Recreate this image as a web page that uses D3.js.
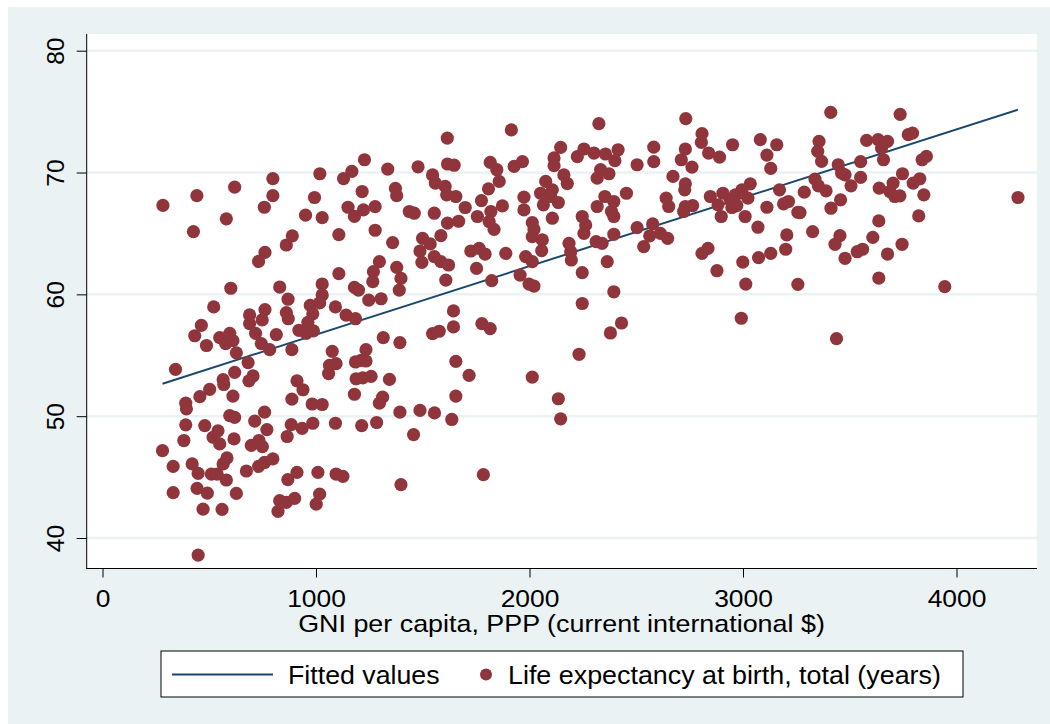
<!DOCTYPE html>
<html>
<head>
<meta charset="utf-8">
<script src="https://cdn.jsdelivr.net/npm/d3@7"></script>
<style>
  body { margin: 0; background: #fff; }
  text { font-family: "Liberation Sans", Arial, sans-serif; fill: #000; }
</style>
</head>
<body>
<svg id="chart" width="1050" height="724"></svg>
<script>
// axis ticks
const xTicks = [0, 1000, 2000, 3000, 4000];
const yTicks = [40, 50, 60, 70, 80];

// fitted values (linear fit), read at the two ends of the line
const fittedX = [281, 4288];
const fittedY = [52.66, 75.16];

// [GNI per capita PPP, life expectancy at birth]
const observations = [
  [1018,69.9],[1168,70.1],[1129,69.5],[798,69.5],[619,68.8],[442,68.1],[798,68.1],[283,67.3],[758,67.15],[993,67.95],
  [1150,67.15],[1180,66.4],[951,66.5],[1029,66.3],[580,66.2],[426,65.15],[1107,64.9],[889,64.8],[861,64.05],[761,63.45],
  [731,62.7],[1107,61.7],[1029,60.85],[830,60.6],[601,60.5],[1180,60.57],[869,59.6],[1029,59.95],[1199,60.35],
  [521,58.97],[761,58.75],[689,58.31],[861,58.5],[870,58.0],[973,59.1],[1017,59.3],[985,58.4],[962,57.7],[920,57.05],
  [954,56.8],[988,57.0],[1091,58.97],[1141,58.3],[1185,58.0],[689,57.6],[748,57.9],[463,57.46],[432,56.6],[487,55.8],
  [549,56.45],[596,56.8],[577,55.95],[611,56.2],[627,55.2],[717,56.8],[814,56.7],[744,55.95],[783,55.46],[887,55.46],
  [342,53.84],[682,54.4],[619,53.6],[565,53.0],[568,52.6],[705,53.3],[686,52.9],[502,52.2],[456,51.6],[390,51.07],
  [393,50.6],[611,51.65],[596,50.05],[619,49.9],[713,49.6],[759,50.33],[770,48.9],[390,49.29],[479,49.23],[541,48.8],
  [518,48.27],[549,47.72],[616,48.13],[381,48.0],[281,47.17],[697,47.6],[733,48.0],[749,47.5],[331,45.88],[420,46.08],
  [448,45.3],[510,45.25],[537,45.25],[580,44.76],[565,46.08],[583,46.57],[674,45.5],[731,45.88],[759,46.2],[798,46.5],
  [443,44.07],[491,43.69],[331,43.72],[627,43.66],[471,42.37],[560,42.35],[868,44.79],[911,45.39],[1009,45.39],[1094,45.25],
  [1126,45.06],[830,43.06],[861,42.92],[900,43.25],[822,42.18],[1017,43.6],[1001,42.78],[448,38.6],[911,52.9],[939,52.17],
  [887,51.4],[982,51.0],[1029,50.96],[884,49.3],[865,48.33],[935,49.0],[985,49.42],[1091,49.42],[1076,55.32],[1063,54.17],
  [1094,54.31],[1059,53.5],[1180,51.8],[1185,54.45],[1188,53.07],
  [1915,73.5],[1615,72.83],[1227,71.05],[1336,70.28],[1478,70.47],[1616,70.7],[1647,70.6],[1816,70.83],[1847,70.23],[1858,69.27],
  [1808,68.66],[1775,67.7],[1928,70.5],[1967,70.9],[2115,71.2],[2146,72.06],[2115,70.56],[2161,69.8],[2177,69.1],[2224,71.3],
  [2076,69.27],[2052,68.3],[2107,68.58],[2065,67.35],[2135,67.54],[2099,68.03],[1974,67.98],[1974,66.93],[2107,66.25],[2013,65.89],
  [2021,65.34],[2013,64.74],[2060,64.47],[2057,63.59],[2185,64.19],[2193,63.5],[2196,62.82],[1216,68.44],[1222,66.93],[1277,67.2],
  [1277,65.26],[1372,68.7],[1378,68.1],[1437,66.8],[1460,66.66],[1554,66.66],[1546,69.8],[1559,69.13],[1605,68.86],[1612,68.17],
  [1655,68.03],[1699,67.13],[1756,66.39],[1811,65.97],[1834,65.34],[1873,67.26],[1819,66.8],[1616,65.84],[1668,66.0],[1585,64.82],
  [1359,64.25],[1499,64.6],[1535,64.14],[1487,63.56],[1496,62.63],[1554,63.1],[1585,62.68],[1621,62.41],[1725,63.56],[1764,63.78],
  [1792,63.31],[1889,63.37],[1752,62.13],[1982,63.1],[2013,62.68],[1297,62.68],[1269,61.86],[1266,61.04],[1378,62.22],[1398,61.31],
  [1390,60.35],[1608,61.17],[1823,61.12],[1956,61.58],[1998,60.84],[2021,60.68],[1247,59.53],[1305,59.64],
  [1644,58.64],[1644,57.33],[1546,56.78],[1577,56.97],[1777,57.6],[1816,57.19],[1315,56.45],[1393,56.04],[1234,55.46],[1234,54.53],
  [1211,54.58],[1219,53.15],[1258,53.27],[1344,53.02],[1655,54.5],[1717,53.35],[1655,51.65],[1312,51.56],[1297,51.07],[1393,50.33],
  [1487,50.47],[1555,50.27],[1636,49.73],[1284,49.48],[1214,49.23],[1457,48.49],[1398,44.38],[1784,45.2],[2013,53.21],[2135,51.43],
  [2146,49.78],[2232,55.08],
  [2325,74.01],[2732,74.42],[2255,71.93],[2302,71.6],[2356,71.52],[2415,71.87],[2400,70.97],[2333,70.23],[2372,69.9],[2317,69.54],
  [2504,70.64],[2582,72.09],[2582,70.89],[2672,69.68],[2730,71.93],[2711,71.05],[2761,70.45],[2808,73.19],[2805,72.48],[2839,71.6],
  [2890,71.27],[2951,72.28],[3081,72.7],[3158,72.28],[3112,71.43],[3130,70.34],[2730,69.07],[2727,68.58],[2454,68.3],[2353,68.03],
  [2395,67.62],[2317,67.21],[2384,66.8],[2395,66.39],[2247,66.39],[2263,65.7],[2255,65.0],[2640,67.9],[2652,67.21],[2730,67.21],
  [2764,67.29],[2722,66.8],[2847,68.03],[2906,68.3],[2883,67.35],[2898,66.39],[2940,67.76],[2964,68.17],[2995,68.58],[3034,69.07],
  [3023,67.9],[2948,67.13],[2971,67.29],[3010,66.39],[3070,65.51],[3112,67.15],[3171,68.58],[3190,67.43],[3213,67.62],[3257,66.74],
  [2504,65.48],[2577,65.78],[2563,64.8],[2613,65.01],[2647,64.6],[2535,63.92],[2395,64.93],[2312,64.33],[2340,64.19],[2364,62.68],
  [2247,61.78],[2395,60.21],[2808,63.37],[2836,63.78],[2878,61.94],[2999,62.65],[3073,63.01],[3130,63.37],[3200,63.7],[3205,64.88],
  [3013,60.84],[3257,60.82],
  [2247,59.25],[2431,57.65],[2379,56.83],[2992,58.04],
  [3411,74.94],[3736,74.78],[3356,72.56],[3350,71.74],[3368,70.91],[3579,72.64],[3633,72.7],[3677,72.56],[3649,72.01],[3658,71.05],
  [3774,73.11],[3794,73.24],[3839,71.05],[3859,71.32],[3551,70.89],[3446,70.64],[3462,69.95],[3478,69.81],[3551,69.6],[3747,69.9],
  [3828,69.49],[3797,69.13],[3337,69.46],[3353,68.91],[3389,68.5],[3287,68.39],[3506,68.91],[3638,68.72],[3703,69.13],[3688,68.44],
  [3711,68.03],[3735,68.09],[3847,68.17],[3457,67.76],[3412,67.07],[3267,66.71],[4288,67.95],[3823,66.44],[3636,66.03],[3326,65.15],
  [3454,64.82],[3431,64.11],[3608,64.68],[3745,64.11],[3560,63.7],[3535,63.5],[3478,62.96],[3677,63.31],[3636,61.34],[3945,60.63],
  [3438,56.36]
];

const legendLabels = ["Fitted values", "Life expectancy at birth, total (years)"];
const xTitle = "GNI per capita, PPP (current international $)";

const bg = "#eaf2f3";
const maroon = "#90353b";
const navy = "#1a476f";

const svg = d3.select("#chart");

// plot region box
const plot = { left: 87, right: 1037, top: 34, bottom: 568.5 };

const x = d3.scaleLinear().domain([0, 4000]).range([102.5, 956.5]);
const y = d3.scaleLinear().domain([40, 80]).range([538, 50.7]);

svg.append("rect").attr("x", 8).attr("y", 7).attr("width", 1042).attr("height", 717).attr("fill", bg);
svg.append("rect")
  .attr("x", plot.left).attr("y", plot.top)
  .attr("width", plot.right - plot.left).attr("height", plot.bottom - plot.top)
  .attr("fill", "#fff");

// grid
svg.append("g").selectAll("line").data(yTicks).join("line")
  .attr("x1", plot.left).attr("x2", plot.right)
  .attr("y1", d => y(d)).attr("y2", d => y(d))
  .attr("stroke", bg).attr("stroke-width", 2.5);

// axes
const yAxis = svg.append("g").attr("transform", `translate(${plot.left - 0.3},0)`)
  .call(d3.axisLeft(y).tickValues(yTicks).tickSize(10).tickSizeOuter(0).tickFormat(d3.format("d")));
yAxis.select(".domain").remove();
yAxis.selectAll("text")
  .attr("transform", "rotate(-90)")
  .attr("x", 0).attr("y", -22.7).attr("dy", 0)
  .attr("text-anchor", "middle")
  .style("font-size", "24.5px");

const xAxis = svg.append("g").attr("transform", `translate(0,${plot.bottom})`)
  .call(d3.axisBottom(x).tickValues(xTicks).tickSize(9).tickSizeOuter(0).tickFormat(d3.format("d")));
xAxis.select(".domain").remove();
xAxis.selectAll("text")
  .attr("y", 38.5).attr("dy", 0)
  .attr("transform", "scale(1.1,1)")
  .style("font-size", "24px");
svg.selectAll(".tick line").attr("stroke", "#000");
svg.selectAll(".tick text").attr("fill", "#000").attr("font-family", null);

svg.append("line").attr("x1", plot.left - 0.3).attr("x2", plot.left - 0.3)
  .attr("y1", plot.top).attr("y2", plot.bottom).attr("stroke", "#000");
svg.append("line").attr("x1", plot.left - 0.8).attr("x2", plot.right)
  .attr("y1", plot.bottom).attr("y2", plot.bottom).attr("stroke", "#000");

// fitted line
svg.append("path")
  .datum(fittedX.map((d, i) => [d, fittedY[i]]))
  .attr("d", d3.line().x(d => x(d[0])).y(d => y(d[1])))
  .attr("fill", "none").attr("stroke", navy).attr("stroke-width", 2);

// scatter
svg.append("g").selectAll("circle").data(observations).join("circle")
  .attr("cx", d => x(d[0])).attr("cy", d => y(d[1]))
  .attr("r", 6.6).attr("fill", maroon);

// x title
svg.append("g").attr("transform", "translate(561.5,632) scale(1.12,1)")
  .append("text").attr("text-anchor", "middle").style("font-size", "24px").text(xTitle);

// legend
const legend = svg.append("g");
legend.append("rect").attr("x", 161).attr("y", 651).attr("width", 802).attr("height", 46)
  .attr("fill", "#fff").attr("stroke", "#000").attr("stroke-width", 1);
legend.append("line").attr("x1", 172).attr("x2", 273).attr("y1", 674.5).attr("y2", 674.5)
  .attr("stroke", navy).attr("stroke-width", 2);
legend.append("g").attr("transform", "translate(288,684) scale(1.07,1)")
  .append("text").style("font-size", "25px").text(legendLabels[0]);
legend.append("circle").attr("cx", 486).attr("cy", 674.5).attr("r", 6).attr("fill", maroon);
legend.append("g").attr("transform", "translate(508,684) scale(1.075,1)")
  .append("text").style("font-size", "25px").text(legendLabels[1]);
</script>
</body>
</html>
